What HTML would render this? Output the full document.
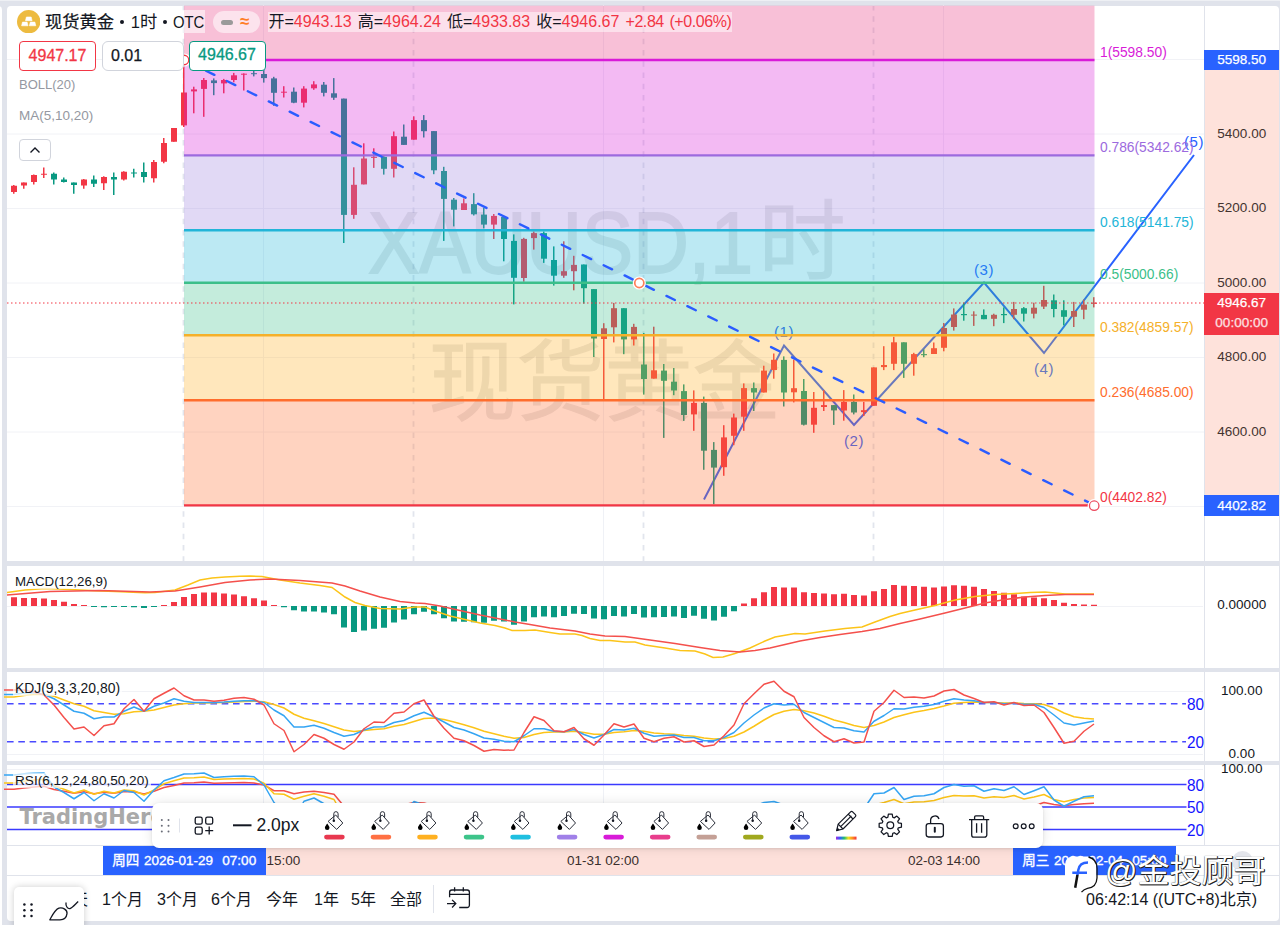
<!DOCTYPE html>
<html lang="zh"><head><meta charset="utf-8"><title>现货黄金 1时</title>
<style>
*{box-sizing:border-box;margin:0;padding:0}
html,body{width:1280px;height:925px;overflow:hidden;background:#e0e3eb;font-family:"Liberation Sans","Noto Sans CJK SC",sans-serif;color:#131722}
.abs{position:absolute}
#leftstrip{left:-8px;top:5.7px;width:10.3px;height:930px;background:#fff;border-radius:4px}
#card{left:7.3px;top:5.7px;width:1271.7px;height:915.5px;background:#fff;border-radius:4px;overflow:hidden}
#chart{left:0;top:0;width:1280px;height:925px}
.sep{left:7px;width:1272px;background:#e0e3eb}
.axisline{left:1203.5px;top:5px;width:1px;height:841px;background:#e0e3eb}
.ax{left:1204.5px;width:74.5px;text-align:center;font-size:13.5px;line-height:14px;color:#131722}
.tag{left:1204.3px;width:74.7px;text-align:center;color:#fff;font-size:13.5px;-webkit-text-stroke:.25px #fff}
.t{white-space:nowrap}
.leg{font-size:13.3px;color:#131722;left:13px;background:rgba(255,255,255,.7);padding:0 2px}
.gray{color:#9598a1}
.red{color:#f23645}
.tb{font-size:16px;top:889.5px;line-height:20px}
.bk{top:811px;width:22px;height:32px}
</style></head><body>
<div class="abs" style="left:0;top:0;width:1280px;height:1px;background:#eef0f4"></div>
<div class="abs" id="leftstrip"></div>
<div class="abs" id="card"></div>
<div class="abs" style="left:1204.3px;top:70px;width:74.7px;height:425px;background:#fee2db"></div>
<svg class="abs" id="chart" width="1280" height="925" viewBox="0 0 1280 925">
<line x1="7" x2="1204" y1="59.5" y2="59.5" stroke="#f1f2f6" stroke-width="1"/>
<line x1="7" x2="1204" y1="134" y2="134" stroke="#f1f2f6" stroke-width="1"/>
<line x1="7" x2="1204" y1="208.5" y2="208.5" stroke="#f1f2f6" stroke-width="1"/>
<line x1="7" x2="1204" y1="283" y2="283" stroke="#f1f2f6" stroke-width="1"/>
<line x1="7" x2="1204" y1="357.5" y2="357.5" stroke="#f1f2f6" stroke-width="1"/>
<line x1="7" x2="1204" y1="432" y2="432" stroke="#f1f2f6" stroke-width="1"/>
<line x1="7" x2="1204" y1="506.5" y2="506.5" stroke="#f1f2f6" stroke-width="1"/>
<line x1="263.5" x2="263.5" y1="5" y2="845" stroke="#eff1f6" stroke-width="1"/>
<line x1="603.5" x2="603.5" y1="5" y2="845" stroke="#eff1f6" stroke-width="1"/>
<line x1="943.5" x2="943.5" y1="5" y2="845" stroke="#eff1f6" stroke-width="1"/>
<line x1="183.5" x2="183.5" y1="5" y2="561" stroke="#e2e5ed" stroke-width="1.8" stroke-dasharray="5.6 5.65"/>
<line x1="413.5" x2="413.5" y1="5" y2="561" stroke="#e2e5ed" stroke-width="1.8" stroke-dasharray="5.6 5.65"/>
<line x1="643.5" x2="643.5" y1="5" y2="561" stroke="#e2e5ed" stroke-width="1.8" stroke-dasharray="5.6 5.65"/>
<line x1="873.5" x2="873.5" y1="5" y2="561" stroke="#e2e5ed" stroke-width="1.8" stroke-dasharray="5.6 5.65"/>
<g opacity="0.13" fill="#50535e" stroke="#50535e">
<text x="368" y="272.7" font-size="87" textLength="385" lengthAdjust="spacingAndGlyphs" stroke-width="1.8" font-family="Liberation Sans, sans-serif">XAUUSD,1</text>
<text x="758.5" y="272.7" font-size="87" stroke-width="1" font-family="Noto Sans CJK SC, sans-serif">时</text>
<text x="604.5" y="413" text-anchor="middle" font-size="88" stroke-width="1" font-family="Noto Sans CJK SC, sans-serif">现货黄金</text>
</g>
<polyline fill="none" stroke="#2962ff" stroke-width="2" stroke-linejoin="miter" points="704,499.5 784,345.5 854,425 984,282.5 1044,353 1194,155"/>
<text x="784" y="336.5" text-anchor="middle" font-size="15" letter-spacing="0.6" fill="#2962ff" font-family="Liberation Sans, sans-serif">(1)</text>
<text x="854" y="446" text-anchor="middle" font-size="15" letter-spacing="0.6" fill="#2962ff" font-family="Liberation Sans, sans-serif">(2)</text>
<text x="984" y="274.5" text-anchor="middle" font-size="15" letter-spacing="0.6" fill="#2962ff" font-family="Liberation Sans, sans-serif">(3)</text>
<text x="1044" y="374" text-anchor="middle" font-size="15" letter-spacing="0.6" fill="#2962ff" font-family="Liberation Sans, sans-serif">(4)</text>
<text x="1194" y="147" text-anchor="middle" font-size="15" letter-spacing="0.6" fill="#2962ff" font-family="Liberation Sans, sans-serif">(5)</text>
<rect x="13" y="185" width="1.5" height="8.75" fill="#f23645"/>
<rect x="11" y="185.75" width="6" height="6.25" fill="#f23645"/>
<rect x="23" y="182.5" width="1.5" height="6.25" fill="#f23645"/>
<rect x="21" y="182.5" width="6" height="3" fill="#f23645"/>
<rect x="33" y="174.5" width="1.5" height="10" fill="#f23645"/>
<rect x="31" y="175" width="6" height="7" fill="#f23645"/>
<rect x="43" y="167.5" width="1.5" height="10.5" fill="#f23645"/>
<rect x="41" y="173.75" width="6" height="1" fill="#f23645"/>
<rect x="53" y="172.5" width="1.5" height="12" fill="#089981"/>
<rect x="51" y="173.75" width="6" height="5.75" fill="#089981"/>
<rect x="63" y="177.5" width="1.5" height="5" fill="#089981"/>
<rect x="61" y="179.5" width="6" height="2.5" fill="#089981"/>
<rect x="73" y="182.5" width="1.5" height="11.25" fill="#089981"/>
<rect x="71" y="182.5" width="6" height="2.5" fill="#089981"/>
<rect x="83" y="179" width="1.5" height="9.75" fill="#f23645"/>
<rect x="81" y="179.5" width="6" height="6" fill="#f23645"/>
<rect x="93" y="175.5" width="1.5" height="11.5" fill="#089981"/>
<rect x="91" y="179.5" width="6" height="4.25" fill="#089981"/>
<rect x="103" y="176.25" width="1.5" height="13.75" fill="#f23645"/>
<rect x="101" y="177" width="6" height="6.25" fill="#f23645"/>
<rect x="113" y="172.5" width="1.5" height="22.5" fill="#089981"/>
<rect x="111" y="177" width="6" height="2.5" fill="#089981"/>
<rect x="123" y="171.25" width="1.5" height="9.25" fill="#f23645"/>
<rect x="121" y="171.75" width="6" height="7.75" fill="#f23645"/>
<rect x="133" y="168.75" width="1.5" height="8.75" fill="#089981"/>
<rect x="131" y="172.5" width="6" height="1" fill="#089981"/>
<rect x="143" y="162.5" width="1.5" height="20" fill="#089981"/>
<rect x="141" y="172" width="6" height="5" fill="#089981"/>
<rect x="153" y="160" width="1.5" height="22.5" fill="#f23645"/>
<rect x="151" y="162" width="6" height="16.25" fill="#f23645"/>
<rect x="163" y="138" width="1.5" height="25.25" fill="#f23645"/>
<rect x="161" y="143" width="6" height="18.75" fill="#f23645"/>
<rect x="173" y="128" width="1.5" height="13.75" fill="#f23645"/>
<rect x="171" y="128" width="6" height="13.75" fill="#f23645"/>
<rect x="183" y="66" width="1.5" height="61" fill="#f23645"/>
<rect x="181" y="92.5" width="6" height="32.9" fill="#f23645"/>
<rect x="193" y="86.7" width="1.5" height="26.6" fill="#f23645"/>
<rect x="191" y="89.4" width="6" height="2" fill="#f23645"/>
<rect x="203" y="78" width="1.5" height="38.8" fill="#f23645"/>
<rect x="201" y="80" width="6" height="8.9" fill="#f23645"/>
<rect x="213" y="78.4" width="1.5" height="16.8" fill="#089981"/>
<rect x="211" y="80.4" width="6" height="2.7" fill="#089981"/>
<rect x="223" y="78.9" width="1.5" height="14.4" fill="#f23645"/>
<rect x="221" y="80" width="6" height="3.4" fill="#f23645"/>
<rect x="233" y="72.9" width="1.5" height="9.4" fill="#f23645"/>
<rect x="231" y="75.3" width="6" height="4.7" fill="#f23645"/>
<rect x="243" y="73.4" width="1.5" height="17.1" fill="#f23645"/>
<rect x="241" y="73.7" width="6" height="1" fill="#f23645"/>
<rect x="253" y="68" width="1.5" height="8.4" fill="#089981"/>
<rect x="251" y="73.2" width="6" height="1" fill="#089981"/>
<rect x="263" y="68" width="1.5" height="14.6" fill="#089981"/>
<rect x="261" y="74" width="6" height="4.1" fill="#089981"/>
<rect x="273" y="76.8" width="1.5" height="29" fill="#089981"/>
<rect x="271" y="78.4" width="6" height="14.4" fill="#089981"/>
<rect x="283" y="86.2" width="1.5" height="11.3" fill="#f23645"/>
<rect x="281" y="91.7" width="6" height="1" fill="#f23645"/>
<rect x="293" y="87.5" width="1.5" height="15.7" fill="#089981"/>
<rect x="291" y="91.7" width="6" height="11" fill="#089981"/>
<rect x="303" y="86.2" width="1.5" height="21.2" fill="#f23645"/>
<rect x="301" y="88.6" width="6" height="14.1" fill="#f23645"/>
<rect x="313" y="81.2" width="1.5" height="8.6" fill="#f23645"/>
<rect x="311" y="84.4" width="6" height="3.9" fill="#f23645"/>
<rect x="323" y="82" width="1.5" height="14.4" fill="#089981"/>
<rect x="321" y="84.7" width="6" height="8.1" fill="#089981"/>
<rect x="333" y="78.1" width="1.5" height="21.8" fill="#089981"/>
<rect x="331" y="93.3" width="6" height="4.4" fill="#089981"/>
<rect x="343" y="98.6" width="1.5" height="144.4" fill="#089981"/>
<rect x="341" y="98.6" width="6" height="116.3" fill="#089981"/>
<rect x="353" y="167.3" width="1.5" height="51.5" fill="#f23645"/>
<rect x="351" y="184.8" width="6" height="30.1" fill="#f23645"/>
<rect x="363" y="143.3" width="1.5" height="41.1" fill="#f23645"/>
<rect x="361" y="158.5" width="6" height="25.9" fill="#f23645"/>
<rect x="373" y="148.3" width="1.5" height="19.6" fill="#f23645"/>
<rect x="371" y="156.9" width="6" height="1" fill="#f23645"/>
<rect x="383" y="155.8" width="1.5" height="18.8" fill="#089981"/>
<rect x="381" y="156.9" width="6" height="11.9" fill="#089981"/>
<rect x="393" y="131.5" width="1.5" height="46" fill="#f23645"/>
<rect x="391" y="136.2" width="6" height="32.6" fill="#f23645"/>
<rect x="403" y="124.5" width="1.5" height="20.4" fill="#089981"/>
<rect x="401" y="136.7" width="6" height="8.2" fill="#089981"/>
<rect x="413" y="116.3" width="1.5" height="23.4" fill="#f23645"/>
<rect x="411" y="120.1" width="6" height="19.6" fill="#f23645"/>
<rect x="423" y="115.1" width="1.5" height="22.4" fill="#089981"/>
<rect x="421" y="120.1" width="6" height="11.1" fill="#089981"/>
<rect x="433" y="131.1" width="1.5" height="43.1" fill="#089981"/>
<rect x="431" y="131.1" width="6" height="39.2" fill="#089981"/>
<rect x="443" y="166.8" width="1.5" height="74.1" fill="#089981"/>
<rect x="441" y="171" width="6" height="27.9" fill="#089981"/>
<rect x="453" y="198" width="1.5" height="28.4" fill="#089981"/>
<rect x="451" y="199.7" width="6" height="10" fill="#089981"/>
<rect x="463" y="198.4" width="1.5" height="11.6" fill="#f23645"/>
<rect x="461" y="203.3" width="6" height="6.7" fill="#f23645"/>
<rect x="473" y="193.2" width="1.5" height="22.3" fill="#089981"/>
<rect x="471" y="204.1" width="6" height="10.2" fill="#089981"/>
<rect x="483" y="207.8" width="1.5" height="20.6" fill="#089981"/>
<rect x="481" y="214.6" width="6" height="10" fill="#089981"/>
<rect x="493" y="214" width="1.5" height="25" fill="#f23645"/>
<rect x="491" y="215.9" width="6" height="8.7" fill="#f23645"/>
<rect x="503" y="215.9" width="1.5" height="45.4" fill="#089981"/>
<rect x="501" y="217" width="6" height="22" fill="#089981"/>
<rect x="513" y="234.4" width="1.5" height="70" fill="#089981"/>
<rect x="511" y="240.9" width="6" height="36.9" fill="#089981"/>
<rect x="523" y="237.8" width="1.5" height="43.9" fill="#f23645"/>
<rect x="521" y="238.9" width="6" height="39.1" fill="#f23645"/>
<rect x="533" y="231.5" width="1.5" height="18.1" fill="#f23645"/>
<rect x="531" y="233.1" width="6" height="5" fill="#f23645"/>
<rect x="543" y="231.5" width="1.5" height="31.4" fill="#089981"/>
<rect x="541" y="233.1" width="6" height="25.6" fill="#089981"/>
<rect x="553" y="246.4" width="1.5" height="39.2" fill="#089981"/>
<rect x="551" y="260" width="6" height="15.7" fill="#089981"/>
<rect x="563" y="241.3" width="1.5" height="36.5" fill="#f23645"/>
<rect x="561" y="271.2" width="6" height="4.5" fill="#f23645"/>
<rect x="573" y="255.8" width="1.5" height="34.5" fill="#f23645"/>
<rect x="571" y="264.9" width="6" height="6.3" fill="#f23645"/>
<rect x="583" y="264.5" width="1.5" height="39.1" fill="#089981"/>
<rect x="581" y="264.5" width="6" height="23.7" fill="#089981"/>
<rect x="593" y="289.1" width="1.5" height="67.9" fill="#089981"/>
<rect x="591" y="289.1" width="6" height="49.4" fill="#089981"/>
<rect x="603" y="323.2" width="1.5" height="76.1" fill="#f23645"/>
<rect x="601" y="328.3" width="6" height="10.7" fill="#f23645"/>
<rect x="613" y="302.9" width="1.5" height="39.5" fill="#f23645"/>
<rect x="611" y="308.2" width="6" height="19.1" fill="#f23645"/>
<rect x="623" y="308.2" width="1.5" height="46" fill="#089981"/>
<rect x="621" y="308.2" width="6" height="31.2" fill="#089981"/>
<rect x="633" y="323.8" width="1.5" height="21.7" fill="#f23645"/>
<rect x="631" y="326.9" width="6" height="12.5" fill="#f23645"/>
<rect x="643" y="333" width="1.5" height="61.6" fill="#089981"/>
<rect x="641" y="364.5" width="6" height="14.5" fill="#089981"/>
<rect x="653" y="326.7" width="1.5" height="51.9" fill="#f23645"/>
<rect x="651" y="370.3" width="6" height="8.3" fill="#f23645"/>
<rect x="663" y="364" width="1.5" height="73.9" fill="#089981"/>
<rect x="661" y="370.6" width="6" height="10.2" fill="#089981"/>
<rect x="673" y="368" width="1.5" height="27.2" fill="#089981"/>
<rect x="671" y="381.7" width="6" height="8.8" fill="#089981"/>
<rect x="683" y="384.4" width="1.5" height="36.5" fill="#089981"/>
<rect x="681" y="391.1" width="6" height="23.9" fill="#089981"/>
<rect x="693" y="390.4" width="1.5" height="40.4" fill="#f23645"/>
<rect x="691" y="402.9" width="6" height="11.5" fill="#f23645"/>
<rect x="703" y="396.6" width="1.5" height="73.2" fill="#089981"/>
<rect x="701" y="402.9" width="6" height="47.8" fill="#089981"/>
<rect x="713" y="442.1" width="1.5" height="62.2" fill="#089981"/>
<rect x="711" y="449.9" width="6" height="17.7" fill="#089981"/>
<rect x="723" y="425.2" width="1.5" height="50.6" fill="#f23645"/>
<rect x="721" y="437.4" width="6" height="29.8" fill="#f23645"/>
<rect x="733" y="413.6" width="1.5" height="31.6" fill="#f23645"/>
<rect x="731" y="417.5" width="6" height="18.3" fill="#f23645"/>
<rect x="743" y="383.4" width="1.5" height="47.4" fill="#f23645"/>
<rect x="741" y="388.1" width="6" height="28.6" fill="#f23645"/>
<rect x="753" y="382.5" width="1.5" height="28.5" fill="#089981"/>
<rect x="751" y="388.1" width="6" height="4.4" fill="#089981"/>
<rect x="763" y="365.7" width="1.5" height="26.8" fill="#f23645"/>
<rect x="761" y="370.6" width="6" height="21.9" fill="#f23645"/>
<rect x="773" y="353.5" width="1.5" height="25.2" fill="#f23645"/>
<rect x="771" y="359.8" width="6" height="10.2" fill="#f23645"/>
<rect x="783" y="356.4" width="1.5" height="50.1" fill="#089981"/>
<rect x="781" y="359.9" width="6" height="32.6" fill="#089981"/>
<rect x="793" y="359.6" width="1.5" height="42.8" fill="#f23645"/>
<rect x="791" y="388.2" width="6" height="4.1" fill="#f23645"/>
<rect x="803" y="379" width="1.5" height="46.5" fill="#089981"/>
<rect x="801" y="391" width="6" height="33.7" fill="#089981"/>
<rect x="813" y="392" width="1.5" height="40.8" fill="#f23645"/>
<rect x="811" y="407.8" width="6" height="16.9" fill="#f23645"/>
<rect x="823" y="390.2" width="1.5" height="20.8" fill="#f23645"/>
<rect x="821" y="405.1" width="6" height="1.9" fill="#f23645"/>
<rect x="833" y="405.1" width="1.5" height="19.8" fill="#089981"/>
<rect x="831" y="405.1" width="6" height="5.3" fill="#089981"/>
<rect x="843" y="390.1" width="1.5" height="30.6" fill="#f23645"/>
<rect x="841" y="401.9" width="6" height="8.6" fill="#f23645"/>
<rect x="853" y="394.5" width="1.5" height="19.9" fill="#089981"/>
<rect x="851" y="401.9" width="6" height="10.6" fill="#089981"/>
<rect x="863" y="401.9" width="1.5" height="14.1" fill="#f23645"/>
<rect x="861" y="410.2" width="6" height="1.9" fill="#f23645"/>
<rect x="873" y="367.4" width="1.5" height="38.4" fill="#f23645"/>
<rect x="871" y="367.4" width="6" height="38.4" fill="#f23645"/>
<rect x="883" y="346.2" width="1.5" height="23.9" fill="#f23645"/>
<rect x="881" y="365" width="6" height="2.1" fill="#f23645"/>
<rect x="893" y="336.8" width="1.5" height="33.3" fill="#f23645"/>
<rect x="891" y="342.3" width="6" height="21.5" fill="#f23645"/>
<rect x="903" y="342.3" width="1.5" height="35.6" fill="#089981"/>
<rect x="901" y="342.3" width="6" height="21.5" fill="#089981"/>
<rect x="913" y="352.8" width="1.5" height="22.9" fill="#f23645"/>
<rect x="911" y="354.1" width="6" height="9.7" fill="#f23645"/>
<rect x="923" y="349.4" width="1.5" height="7.8" fill="#089981"/>
<rect x="921" y="354.1" width="6" height="1.1" fill="#089981"/>
<rect x="933" y="342.5" width="1.5" height="11.5" fill="#f23645"/>
<rect x="931" y="348.2" width="6" height="5.8" fill="#f23645"/>
<rect x="943" y="323" width="1.5" height="28.3" fill="#f23645"/>
<rect x="941" y="328" width="6" height="19.8" fill="#f23645"/>
<rect x="953" y="308.4" width="1.5" height="22.2" fill="#f23645"/>
<rect x="951" y="314.5" width="6" height="12.5" fill="#f23645"/>
<rect x="963" y="302.7" width="1.5" height="18" fill="#089981"/>
<rect x="961" y="314" width="6" height="1.2" fill="#089981"/>
<rect x="973" y="311.3" width="1.5" height="14.6" fill="#f23645"/>
<rect x="971" y="314.6" width="6" height="1" fill="#f23645"/>
<rect x="983" y="309.4" width="1.5" height="9.8" fill="#089981"/>
<rect x="981" y="314.9" width="6" height="4.3" fill="#089981"/>
<rect x="993" y="313.7" width="1.5" height="12.5" fill="#f23645"/>
<rect x="991" y="314.8" width="6" height="4" fill="#f23645"/>
<rect x="1003" y="307.4" width="1.5" height="15.7" fill="#089981"/>
<rect x="1001" y="314" width="6" height="1.2" fill="#089981"/>
<rect x="1013" y="301.9" width="1.5" height="17.3" fill="#f23645"/>
<rect x="1011" y="309" width="6" height="5.8" fill="#f23645"/>
<rect x="1023" y="307.1" width="1.5" height="14.4" fill="#089981"/>
<rect x="1021" y="308.2" width="6" height="5.5" fill="#089981"/>
<rect x="1033" y="302.7" width="1.5" height="15.7" fill="#f23645"/>
<rect x="1031" y="307.7" width="6" height="6" fill="#f23645"/>
<rect x="1043" y="285.8" width="1.5" height="23.2" fill="#f23645"/>
<rect x="1041" y="300" width="6" height="6.6" fill="#f23645"/>
<rect x="1053" y="294.5" width="1.5" height="22.8" fill="#089981"/>
<rect x="1051" y="300.3" width="6" height="8.7" fill="#089981"/>
<rect x="1063" y="300.3" width="1.5" height="25.1" fill="#089981"/>
<rect x="1061" y="310.2" width="6" height="6.6" fill="#089981"/>
<rect x="1073" y="301.9" width="1.5" height="25.1" fill="#f23645"/>
<rect x="1071" y="311" width="6" height="5.8" fill="#f23645"/>
<rect x="1083" y="299.6" width="1.5" height="19.6" fill="#f23645"/>
<rect x="1081" y="304.6" width="6" height="5.1" fill="#f23645"/>
<rect x="1093" y="297.2" width="1.5" height="10.2" fill="#f23645"/>
<rect x="1091" y="302.7" width="6" height="1.1" fill="#f23645"/>
<rect x="184" y="5.7" width="910.5" height="54.3" fill="#e8307a" fill-opacity="0.3"/>
<rect x="184" y="60" width="910.5" height="95.4" fill="#d81bd8" fill-opacity="0.3"/>
<rect x="184" y="155.4" width="910.5" height="74.8" fill="#9b80de" fill-opacity="0.3"/>
<rect x="184" y="230.2" width="910.5" height="52.6" fill="#22b5d8" fill-opacity="0.3"/>
<rect x="184" y="282.8" width="910.5" height="52.5" fill="#3cbf8a" fill-opacity="0.3"/>
<rect x="184" y="335.3" width="910.5" height="65" fill="#ffb020" fill-opacity="0.3"/>
<rect x="184" y="400.3" width="910.5" height="105.1" fill="#ff6d2d" fill-opacity="0.3"/>
<line x1="184" x2="1094.5" y1="60" y2="60" stroke="#d81bd8" stroke-width="2.4"/>
<text x="1100" y="56.5" font-size="13.8" fill="#d81bd8" font-family="Liberation Sans, sans-serif">1(5598.50)</text>
<line x1="184" x2="1094.5" y1="155.4" y2="155.4" stroke="#9c6ade" stroke-width="2.4"/>
<text x="1100" y="151.9" font-size="13.8" fill="#9c6ade" font-family="Liberation Sans, sans-serif">0.786(5342.62)</text>
<line x1="184" x2="1094.5" y1="230.2" y2="230.2" stroke="#22b5d8" stroke-width="2.4"/>
<text x="1100" y="226.7" font-size="13.8" fill="#22b5d8" font-family="Liberation Sans, sans-serif">0.618(5141.75)</text>
<line x1="184" x2="1094.5" y1="282.8" y2="282.8" stroke="#3cbf8a" stroke-width="2.4"/>
<text x="1100" y="279.3" font-size="13.8" fill="#3cbf8a" font-family="Liberation Sans, sans-serif">0.5(5000.66)</text>
<line x1="184" x2="1094.5" y1="335.3" y2="335.3" stroke="#f5b02a" stroke-width="2.4"/>
<text x="1100" y="331.8" font-size="13.8" fill="#f5b02a" font-family="Liberation Sans, sans-serif">0.382(4859.57)</text>
<line x1="184" x2="1094.5" y1="400.3" y2="400.3" stroke="#ff6d2d" stroke-width="2.4"/>
<text x="1100" y="396.8" font-size="13.8" fill="#ff6d2d" font-family="Liberation Sans, sans-serif">0.236(4685.00)</text>
<line x1="184" x2="1094.5" y1="505.4" y2="505.4" stroke="#f23645" stroke-width="2.4"/>
<text x="1100" y="501.9" font-size="13.8" fill="#f23645" font-family="Liberation Sans, sans-serif">0(4402.82)</text>
<line x1="185" y1="60.5" x2="1094" y2="505" stroke="#2b5cff" stroke-width="2.4" stroke-linecap="round" stroke-dasharray="9.4 13.9"/>
<circle cx="184" cy="60" r="6.6" fill="#fff"/>
<circle cx="184" cy="60" r="4.75" fill="#fff" stroke="#f23645" stroke-width="1.3"/>
<circle cx="639.3" cy="283" r="6.6" fill="#fff"/>
<circle cx="639.3" cy="283" r="4.550000000000001" fill="#fff" stroke="#ff7f5a" stroke-width="1.7"/>
<circle cx="1094.2" cy="505.7" r="6.6" fill="#fff"/>
<circle cx="1094.2" cy="505.7" r="4.75" fill="#fff" stroke="#ec4a5e" stroke-width="1.3"/>
<line x1="7" x2="1204" y1="303" y2="303" stroke="#f23645" stroke-width="1" stroke-dasharray="1.5 2.5"/>
<line x1="7" x2="1203" y1="606.5" y2="606.5" stroke="#f1f2f6" stroke-width="1"/>
<rect x="11" y="597.25" width="6" height="8.75" fill="#f23645"/>
<rect x="21" y="598" width="6" height="8" fill="#f23645"/>
<rect x="31" y="598" width="6" height="8" fill="#f23645"/>
<rect x="41" y="598.5" width="6" height="7.5" fill="#f23645"/>
<rect x="51" y="600" width="6" height="6" fill="#f23645"/>
<rect x="61" y="601.75" width="6" height="4.25" fill="#f23645"/>
<rect x="71" y="604" width="6" height="2" fill="#f23645"/>
<rect x="81" y="605" width="6" height="1" fill="#f23645"/>
<rect x="91" y="606" width="6" height="1" fill="#089981"/>
<rect x="101" y="606" width="6" height="1.25" fill="#089981"/>
<rect x="111" y="606" width="6" height="1" fill="#089981"/>
<rect x="121" y="606" width="6" height="1" fill="#089981"/>
<rect x="131" y="606" width="6" height="1.25" fill="#089981"/>
<rect x="141" y="606" width="6" height="2" fill="#089981"/>
<rect x="151" y="606" width="6" height="1" fill="#089981"/>
<rect x="161" y="605" width="6" height="1" fill="#f23645"/>
<rect x="171" y="602" width="6" height="4" fill="#f23645"/>
<rect x="181" y="597" width="6" height="9" fill="#f23645"/>
<rect x="191" y="594" width="6" height="12" fill="#f23645"/>
<rect x="201" y="592.5" width="6" height="13.5" fill="#f23645"/>
<rect x="211" y="592.5" width="6" height="13.5" fill="#f23645"/>
<rect x="221" y="593.5" width="6" height="12.5" fill="#f23645"/>
<rect x="231" y="594.5" width="6" height="11.5" fill="#f23645"/>
<rect x="241" y="596.25" width="6" height="9.75" fill="#f23645"/>
<rect x="251" y="598.25" width="6" height="7.75" fill="#f23645"/>
<rect x="261" y="600.5" width="6" height="5.5" fill="#f23645"/>
<rect x="271" y="605" width="6" height="1" fill="#f23645"/>
<rect x="281" y="606" width="6" height="1.25" fill="#089981"/>
<rect x="291" y="606" width="6" height="4.25" fill="#089981"/>
<rect x="301" y="606" width="6" height="5.5" fill="#089981"/>
<rect x="311" y="606" width="6" height="5.5" fill="#089981"/>
<rect x="321" y="606" width="6" height="6.5" fill="#089981"/>
<rect x="331" y="606" width="6" height="8.25" fill="#089981"/>
<rect x="341" y="606" width="6" height="21.5" fill="#089981"/>
<rect x="351" y="606" width="6" height="26" fill="#089981"/>
<rect x="361" y="606" width="6" height="24.5" fill="#089981"/>
<rect x="371" y="606" width="6" height="22.75" fill="#089981"/>
<rect x="381" y="606" width="6" height="21.75" fill="#089981"/>
<rect x="391" y="606" width="6" height="16.5" fill="#089981"/>
<rect x="401" y="606" width="6" height="13.5" fill="#089981"/>
<rect x="411" y="606" width="6" height="8.25" fill="#089981"/>
<rect x="421" y="606" width="6" height="5.75" fill="#089981"/>
<rect x="431" y="606" width="6" height="8.25" fill="#089981"/>
<rect x="441" y="606" width="6" height="12.25" fill="#089981"/>
<rect x="451" y="606" width="6" height="15.5" fill="#089981"/>
<rect x="461" y="606" width="6" height="15.75" fill="#089981"/>
<rect x="471" y="606" width="6" height="16.25" fill="#089981"/>
<rect x="481" y="606" width="6" height="16.75" fill="#089981"/>
<rect x="491" y="606" width="6" height="14.75" fill="#089981"/>
<rect x="501" y="606" width="6" height="15.5" fill="#089981"/>
<rect x="511" y="606" width="6" height="18.75" fill="#089981"/>
<rect x="521" y="606" width="6" height="15.5" fill="#089981"/>
<rect x="531" y="606" width="6" height="11.25" fill="#089981"/>
<rect x="541" y="606" width="6" height="10.5" fill="#089981"/>
<rect x="551" y="606" width="6" height="11.25" fill="#089981"/>
<rect x="561" y="606" width="6" height="10" fill="#089981"/>
<rect x="571" y="606" width="6" height="7.75" fill="#089981"/>
<rect x="581" y="606" width="6" height="8" fill="#089981"/>
<rect x="591" y="606" width="6" height="12.5" fill="#089981"/>
<rect x="601" y="606" width="6" height="13.25" fill="#089981"/>
<rect x="611" y="606" width="6" height="10" fill="#089981"/>
<rect x="621" y="606" width="6" height="10.5" fill="#089981"/>
<rect x="631" y="606" width="6" height="8" fill="#089981"/>
<rect x="641" y="606" width="6" height="11.5" fill="#089981"/>
<rect x="651" y="606" width="6" height="11.25" fill="#089981"/>
<rect x="661" y="606" width="6" height="11" fill="#089981"/>
<rect x="671" y="606" width="6" height="10.5" fill="#089981"/>
<rect x="681" y="606" width="6" height="12" fill="#089981"/>
<rect x="691" y="606" width="6" height="9.75" fill="#089981"/>
<rect x="701" y="606" width="6" height="12.75" fill="#089981"/>
<rect x="711" y="606" width="6" height="14.5" fill="#089981"/>
<rect x="721" y="606" width="6" height="10.75" fill="#089981"/>
<rect x="731" y="606" width="6" height="5.25" fill="#089981"/>
<rect x="741" y="603.5" width="6" height="2.5" fill="#f23645"/>
<rect x="751" y="598.25" width="6" height="7.75" fill="#f23645"/>
<rect x="761" y="592.25" width="6" height="13.75" fill="#f23645"/>
<rect x="771" y="587" width="6" height="19" fill="#f23645"/>
<rect x="781" y="587.5" width="6" height="18.5" fill="#f23645"/>
<rect x="791" y="587.5" width="6" height="18.5" fill="#f23645"/>
<rect x="801" y="592.25" width="6" height="13.75" fill="#f23645"/>
<rect x="811" y="593" width="6" height="13" fill="#f23645"/>
<rect x="821" y="593.5" width="6" height="12.5" fill="#f23645"/>
<rect x="831" y="594.25" width="6" height="11.75" fill="#f23645"/>
<rect x="841" y="593.75" width="6" height="12.25" fill="#f23645"/>
<rect x="851" y="595" width="6" height="11" fill="#f23645"/>
<rect x="861" y="595.5" width="6" height="10.5" fill="#f23645"/>
<rect x="871" y="591.25" width="6" height="14.75" fill="#f23645"/>
<rect x="881" y="589" width="6" height="17" fill="#f23645"/>
<rect x="891" y="585" width="6" height="21" fill="#f23645"/>
<rect x="901" y="585.75" width="6" height="20.25" fill="#f23645"/>
<rect x="911" y="586" width="6" height="20" fill="#f23645"/>
<rect x="921" y="586.75" width="6" height="19.25" fill="#f23645"/>
<rect x="931" y="587.5" width="6" height="18.5" fill="#f23645"/>
<rect x="941" y="586.5" width="6" height="19.5" fill="#f23645"/>
<rect x="951" y="585.25" width="6" height="20.75" fill="#f23645"/>
<rect x="961" y="585.75" width="6" height="20.25" fill="#f23645"/>
<rect x="971" y="586.75" width="6" height="19.25" fill="#f23645"/>
<rect x="981" y="589" width="6" height="17" fill="#f23645"/>
<rect x="991" y="591" width="6" height="15" fill="#f23645"/>
<rect x="1001" y="592.75" width="6" height="13.25" fill="#f23645"/>
<rect x="1011" y="594.25" width="6" height="11.75" fill="#f23645"/>
<rect x="1021" y="596.5" width="6" height="9.5" fill="#f23645"/>
<rect x="1031" y="597.5" width="6" height="8.5" fill="#f23645"/>
<rect x="1041" y="598.25" width="6" height="7.75" fill="#f23645"/>
<rect x="1051" y="600" width="6" height="6" fill="#f23645"/>
<rect x="1061" y="602.75" width="6" height="3.25" fill="#f23645"/>
<rect x="1071" y="604" width="6" height="2" fill="#f23645"/>
<rect x="1081" y="604.5" width="6" height="1.5" fill="#f23645"/>
<rect x="1091" y="604.75" width="6" height="1.25" fill="#f23645"/>
<polyline fill="none" stroke="#fcc419" stroke-width="1.5" points="7,592.5 25,590 45,588.5 70,589.5 95,590.8 115,591.5 145,592.75 155,592.5 175,590 188,585 200,580 212,578 225,577 240,576.2 250,576 262,576.5 280,580 300,583 320,585.5 332,587.5 345,597 355,602.5 365,605.5 380,608.5 400,609 415,607 425,607 435,611 450,616 465,619.5 480,623 495,625.5 505,628 512,630.5 525,630.5 535,630 550,632.5 560,634 575,634 582,635.5 590,638.5 600,640.5 610,640.5 625,642 635,642 645,645 665,648 680,650.5 695,651 705,654 713,657.5 723,657 735,653.5 750,648 765,641 775,637 795,633.5 805,634 825,631 845,628.5 862,627 875,622 890,616.5 900,613.5 915,610 935,605.5 955,600 975,596.5 995,594.5 1015,593.5 1030,592.5 1045,592 1055,593 1065,594 1094,594"/>
<polyline fill="none" stroke="#f4504c" stroke-width="1.5" points="7,595 50,591.5 100,590.5 150,592 175,591 200,587 225,582.5 250,580 270,579 300,580.5 332,583 345,586 360,591 380,597 400,601.5 415,603 425,603.5 440,606 460,610.5 480,615 500,619 515,622 530,624.5 550,628 575,631 590,634 605,636 625,636.5 650,640 675,643.5 700,647.5 720,650.5 740,652 755,650.5 770,648 785,644.5 800,641 820,637.5 840,634.5 862,631.5 880,628.5 900,623.5 920,619 945,613 965,608 985,603 1005,599.5 1025,597 1045,595.5 1065,594.5 1094,594.5"/>
<line x1="7" x2="1203" y1="691.5" y2="691.5" stroke="#f1f2f6" stroke-width="1"/>
<line x1="7" x2="1203" y1="754.5" y2="754.5" stroke="#f1f2f6" stroke-width="1"/>
<line x1="7" x2="1186" y1="703.75" y2="703.75" stroke="#4a4aff" stroke-width="1.7" stroke-dasharray="6.6 4.7"/>
<line x1="7" x2="1186" y1="741.75" y2="741.75" stroke="#4a4aff" stroke-width="1.7" stroke-dasharray="6.6 4.7"/>
<polyline fill="none" stroke="#fcc419" stroke-width="1.5" stroke-linejoin="round" points="4,697 14,697 24,695.5 34,694.5 44,694.5 54,696.25 64,700 74,703.75 84,706.25 94,710.75 104,712.5 114,714.25 124,713.75 134,711.75 144,711.25 154,710 164,707.5 174,705 184,703.75 194,703 204,703 214,702.75 224,702.5 234,702 244,701.5 254,701.25 264,701.75 274,704.5 284,708 294,714.25 304,718.25 314,720.75 324,723.5 334,726.75 344,730 354,731.5 364,730.5 374,729.5 384,728.75 394,726.25 404,724.5 414,721.5 424,718.5 434,718 444,719.5 454,722 464,724.75 474,727.75 484,731.25 494,733.75 504,736.25 514,738.25 524,737.5 534,734.5 544,732.5 554,732 564,732 574,731.25 584,732.5 594,734.25 604,734.25 614,732.5 624,731.75 634,730.5 644,731.25 654,733 664,733.75 674,734.25 684,735.5 694,736.25 704,738 714,739 724,738.5 734,736.25 744,732 754,726.25 764,720 774,714.5 784,711.25 794,709.5 804,710.75 814,713 824,716.25 834,720 844,722.5 854,725.5 864,727.5 874,725.5 884,722 894,717.5 904,714.75 914,712.25 924,710.5 934,708.5 944,706 954,703.25 964,702.5 974,702 984,702.5 994,702.5 1004,703 1014,703 1024,703.5 1034,703.75 1044,704.5 1054,708 1064,713 1074,716.75 1084,718.25 1094,719"/>
<polyline fill="none" stroke="#35a5f3" stroke-width="1.5" stroke-linejoin="round" points="4,694.5 14,694.5 24,693 34,692.5 44,694.5 54,698.75 64,705 74,711.25 84,713.25 94,718.75 104,717 114,717 124,711.25 134,707 144,711.25 154,706.25 164,703 174,698.75 184,701.25 194,702.5 204,702.5 214,702.5 224,702 234,701.25 244,700.75 254,700.75 264,702.5 274,710 284,715.75 294,727 304,727 314,725.25 324,728.25 334,732.5 344,736.25 354,734.5 364,730 374,727 384,726.75 394,722.5 404,720.5 414,715.75 424,712.25 434,716.75 444,722 454,727.5 464,730 474,733.75 484,738 494,739.25 504,741.25 514,741.75 524,735.75 534,728.75 544,728.75 554,731.25 564,731.75 574,729.5 584,734.5 594,738 604,734.5 614,729.5 624,730 634,728.25 644,733.25 654,736.25 664,735.5 674,735 684,737.5 694,737.5 704,740.75 714,740.75 724,737.5 734,732.5 744,723 754,715 764,708 774,703.75 784,705 794,704.25 804,712.5 814,717.5 824,722.5 834,727.5 844,728 854,730.75 864,732 874,721.25 884,715.5 894,708.75 904,709 914,707.25 924,706.25 934,704.5 944,701.25 954,698.75 964,700 974,700.75 984,702.5 994,702.5 1004,703.75 1014,703.25 1024,704.25 1034,704.25 1044,707.5 1054,715 1064,723 1074,725 1084,723 1094,721"/>
<polyline fill="none" stroke="#f4504c" stroke-width="1.5" stroke-linejoin="round" points="4,690 14,690 24,690 34,692 44,695 54,705 64,717.5 74,729 84,727 94,735.5 104,725.75 114,723.75 124,708.75 134,699.5 144,711.25 154,698.75 164,693.25 174,688 184,695.75 194,700 204,700 214,701.25 224,700.25 234,698.25 244,697.5 254,699.25 264,705 274,723.75 284,730.5 294,751.75 304,744.5 314,734.5 324,738.25 334,744.5 344,749.25 354,742 364,728.75 374,722 384,722.5 394,713.25 404,712 414,703.75 424,700 434,716.25 444,728.25 454,738.25 464,740.75 474,745.5 484,751.25 494,749.5 504,750.25 514,750 524,732.5 534,716.75 544,720.5 554,730.75 564,731.75 574,727.5 584,738.75 594,745.25 604,735 614,723.75 624,727 634,724 644,738.25 654,741.75 664,738.25 674,736.75 684,742 694,740.75 704,746.5 714,745 724,735.75 734,725 744,703.75 754,693.75 764,684.25 774,681.25 784,691.25 794,696.75 804,717.5 814,727.5 824,735.75 834,741.75 844,738.75 854,743 864,742 874,711.25 884,702.5 894,690.25 904,697.5 914,697 924,698 934,696 944,691 954,689.5 964,695 974,698.5 984,702.5 994,701.75 1004,705 1014,702.5 1024,705.5 1034,705 1044,712.5 1054,727.5 1064,743.25 1074,741.25 1084,731.25 1094,724"/>
<line x1="7" x2="1203" y1="769.5" y2="769.5" stroke="#f1f2f6" stroke-width="1"/>
<line x1="7" x2="1186.5" y1="784.5" y2="784.5" stroke="#3a3aff" stroke-width="1.5"/>
<line x1="7" x2="1186.5" y1="807" y2="807" stroke="#3a3aff" stroke-width="1.5"/>
<line x1="7" x2="1186.5" y1="829.5" y2="829.5" stroke="#3a3aff" stroke-width="1.5"/>
<polyline fill="none" stroke="#f4504c" stroke-width="1.5" stroke-linejoin="round" points="4,789.25 14,789.25 24,788 34,787 44,786.25 54,789.5 64,791.25 74,793.25 84,791.75 94,793.75 104,792.25 114,793.25 124,791.5 134,791.75 144,794 154,791.25 164,787.5 174,785.5 184,783 194,782.75 204,782 214,783.25 224,783 234,782.75 244,782.5 254,783 264,785 274,790.75 284,790.75 294,793.75 304,792 314,791.25 324,792.5 334,794.25 344,806.25 354,808.75 364,808.5 374,808 384,807.75 394,805.75 404,804.75 414,802.5 424,803 434,805.75 444,808.25 454,810.5 464,810.75 474,811.75 484,812.75 494,812.75 504,813.5 514,814.75 524,813.75 534,811.75 544,812 554,813.25 564,813.25 574,812.75 584,814.25 594,815.75 604,815.25 614,813.75 624,814 634,813.5 644,815.25 654,816 664,815.75 674,815.75 684,816.5 694,816.5 704,817.5 714,818 724,817 734,815.25 744,813.25 754,811 764,809.5 774,808.5 784,809 794,809.25 804,811.5 814,812.75 824,813.75 834,814.75 844,814.5 854,815.25 864,812.25 874,807.5 884,806 894,805.75 904,806.5 914,805.75 924,805.75 934,805.75 944,805.75 954,805.75 964,805.75 974,805.75 984,805.75 994,805.75 1004,805.75 1014,805.75 1024,805.75 1034,805.75 1044,802.5 1054,804.5 1064,805.75 1074,804.5 1084,803.75 1094,803.25"/>
<polyline fill="none" stroke="#fcc419" stroke-width="1.5" stroke-linejoin="round" points="4,783 14,783 24,781.25 34,780 44,779.25 54,785.5 64,789.25 74,793 84,790 94,794.25 104,791.25 114,793 124,790 134,790.75 144,795 154,790 164,783.75 174,780.75 184,778 194,777.75 204,777 214,779.5 224,779 234,778.75 244,778.5 254,779 264,783.25 274,793.75 284,794.25 294,799.25 304,796.25 314,793.75 324,796.25 334,799.5 344,817.5 354,820.5 364,819.5 374,818 384,817.5 394,813 404,811 414,806.25 424,807 434,812 444,816.5 454,820 464,820 474,821.5 484,823 494,822.5 504,823.5 514,825.5 524,823 534,819 544,819.5 554,821.5 564,821.5 574,820.5 584,823 594,825.5 604,824 614,821 624,821.5 634,820.5 644,823.5 654,824.5 664,824 674,823.75 684,824.75 694,824.5 704,826 714,826.75 724,824.5 734,821 744,817 754,813 764,810.5 774,809 784,810 794,810.5 804,814.5 814,816.5 824,818 834,819.5 844,818.75 854,819.75 864,813.75 874,805 884,802.5 894,799.5 904,803.75 914,802 924,801.75 934,800.5 944,797.5 954,795.5 964,796 974,795.75 984,798 994,796.75 1004,797.5 1014,795.5 1024,799 1034,797 1044,794.5 1054,799.5 1064,801.75 1074,799.5 1084,798 1094,797.5"/>
<polyline fill="none" stroke="#35a5f3" stroke-width="1.5" stroke-linejoin="round" points="4,775 14,775 24,773.75 34,773.25 44,773 54,787 64,792.5 74,798.75 84,792.5 94,800.75 104,793.75 114,798 124,790.5 134,792.5 144,801.25 154,790 164,780.75 174,777.5 184,774 194,773.75 204,773 214,777.5 224,776.75 234,776.25 244,776 254,776.75 264,785 274,802.5 284,812.5 294,818.75 304,801.25 314,798 324,803.75 334,808.75 344,827.5 354,830 364,827.5 374,825 384,823.75 394,815 404,811.25 414,801.5 424,805 434,815 444,822.5 454,827.5 464,826.25 474,828.75 484,830 494,828.75 504,830 514,832.5 524,827.5 534,820 544,821.25 554,825 564,825 574,822.5 584,827.5 594,831.25 604,827.5 614,822.5 624,823.75 634,822 644,827.5 654,828.75 664,827.5 674,827 684,828.75 694,828 704,830 714,831.25 724,826.25 734,820 744,812.5 754,806.25 764,802.5 774,801.5 784,805 794,806.25 804,815 814,818.75 824,821.25 834,823.75 844,822 854,823.75 864,808.75 874,793.75 884,793 894,787.5 904,799.5 914,796.25 924,795.75 934,793.75 944,787.5 954,784.5 964,786.25 974,785.75 984,791.25 994,788.75 1004,790.5 1014,786.75 1024,794.5 1034,790.75 1044,786.75 1054,800 1064,806.25 1074,801.25 1084,796.75 1094,795.75"/>
</svg>
<div class="abs sep" style="top:561px;height:4.5px"></div>
<div class="abs sep" style="top:667.5px;height:4.5px"></div>
<div class="abs sep" style="top:760.5px;height:4.5px"></div>
<div class="abs axisline"></div>
<div class="abs" style="left:7px;top:845px;width:1272px;height:1px;background:#e0e3eb"></div>
<div class="abs" style="left:7px;top:875px;width:1272px;height:1px;background:#e0e3eb"></div>

<!-- price axis -->
<div class="abs ax t" style="top:127px;color:#43332f">5400.00</div>
<div class="abs ax t" style="top:201px;color:#43332f">5200.00</div>
<div class="abs ax t" style="top:276px;color:#43332f">5000.00</div>
<div class="abs ax t" style="top:350px;color:#43332f">4800.00</div>
<div class="abs ax t" style="top:425px;color:#43332f">4600.00</div>
<div class="abs tag t" style="top:50px;height:20px;line-height:20px;background:#2962ff">5598.50</div>
<div class="abs tag t" style="top:495px;height:21px;line-height:21px;background:#2962ff">4402.82</div>
<div class="abs tag t" style="top:293px;height:41.5px;background:#f23645;line-height:20.3px;padding-top:0">4946.67<br><span style="opacity:.85">00:00:00</span></div>
<div class="abs ax t" style="top:598px">0.00000</div>
<div class="abs ax t" style="top:684px">100.00</div>
<div class="abs ax t" style="top:747px">0.00</div>
<div class="abs ax t" style="top:762px">100.00</div>
<div class="abs t" style="left:1187px;top:694px;font-size:16.5px;color:#1414ff;line-height:20px;transform:scaleX(.93);transform-origin:0 0">80</div>
<div class="abs t" style="left:1187px;top:732px;font-size:16.5px;color:#1414ff;line-height:20px;transform:scaleX(.93);transform-origin:0 0">20</div>
<div class="abs t" style="left:1187px;top:775px;font-size:16.5px;color:#1414ff;line-height:20px;transform:scaleX(.93);transform-origin:0 0">80</div>
<div class="abs t" style="left:1187px;top:797px;font-size:16.5px;color:#1414ff;line-height:20px;transform:scaleX(.93);transform-origin:0 0">50</div>
<div class="abs t" style="left:1187px;top:820px;font-size:16.5px;color:#1414ff;line-height:20px;transform:scaleX(.93);transform-origin:0 0">20</div>

<!-- legends -->
<div class="abs t leg" style="top:573.5px">MACD(12,26,9)</div>
<div class="abs t leg" style="top:680px;font-size:13.9px">KDJ(9,3,3,20,80)</div>
<div class="abs t leg" style="top:772.5px;font-size:13.6px">RSI(6,12,24,80,50,20)</div>
<div class="abs t" style="left:19.5px;top:804.7px;font-size:21px;line-height:24px;font-weight:bold;color:#a9a9a9;font-family:'DejaVu Sans',sans-serif">TradingHero</div>

<!-- header -->
<div class="abs" style="left:7px;top:10px;width:198px;height:23px;background:rgba(255,255,255,.55)"></div>
<svg class="abs" style="left:16.6px;top:10.1px" width="23.4" height="23.4" viewBox="16.6 10.1 23.4 23.4"><circle cx="28.3" cy="21.8" r="11.7" fill="#edbb40"/><path d="M26 17.1H30.8L31.7 20.8H25.1ZM22.1 22.2H26.7L27.6 25.9H21.2ZM29.9 22.2H34.5L35.4 25.9H29Z" fill="#fff" stroke="#fff" stroke-width=".6" stroke-linejoin="round"/></svg>
<div class="abs t" style="left:45px;top:10.5px;font-size:17.3px;line-height:23px;color:#131722;-webkit-text-stroke:.2px #131722">现货黄金</div>
<div class="abs" style="left:120.4px;top:20.3px;width:3.8px;height:3.8px;border-radius:2px;background:#131722"></div>
<div class="abs t" style="left:130.8px;top:10.5px;font-size:17.3px;line-height:23px;color:#131722"><span style="font-size:16.5px">1</span>时</div>
<div class="abs" style="left:163.1px;top:20.3px;width:3.8px;height:3.8px;border-radius:2px;background:#131722"></div>
<div class="abs t" style="left:172.6px;top:10.5px;font-size:16.8px;line-height:23px;color:#131722;transform:scaleX(.885);transform-origin:0 0">OTC</div>
<div class="abs" style="left:213px;top:11px;width:46.5px;height:21.5px;border-radius:11px;background:rgba(255,255,255,.55)"></div>
<div class="abs" style="left:221px;top:19.5px;width:12px;height:5px;border-radius:2.5px;background:#9a9a9a"></div>
<div class="abs t" style="left:240px;top:10px;font-size:17px;line-height:23px;color:#ff7d26;font-weight:bold">≈</div>
<div class="abs t" style="left:267.5px;top:12px;height:19.5px;line-height:19.5px;font-size:16px;word-spacing:1.6px;background:rgba(255,255,255,.5);padding:0 1px">开=<span class="red">4943.13</span> 高=<span class="red">4964.24</span> 低=<span class="red">4933.83</span> 收=<span class="red">4946.67</span> <span class="red" style="letter-spacing:-.42px">+2.84 (+0.06%)</span></div>
<div class="abs t" style="left:19px;top:41px;width:77px;height:29.5px;border:1.3px solid #f23645;border-radius:4px;background:#fff;color:#f23645;font-size:16px;line-height:27px;text-align:center;-webkit-text-stroke:.3px #f23645">4947.17</div>
<div class="abs t" style="left:102px;top:41px;width:82px;height:29.5px;border:1.3px solid #d1d4dc;border-radius:6px;background:#fff;font-size:16px;line-height:27px;padding-left:8px;-webkit-text-stroke:.25px #131722">0.01</div>
<div class="abs t" style="left:188.5px;top:41px;width:77px;height:29.5px;border:1.5px solid #089981;border-radius:4px;background:#fff;color:#089981;font-size:16px;line-height:26.5px;text-align:center;-webkit-text-stroke:.3px #089981">4946.67</div>
<div class="abs t gray" style="left:19px;top:77px;font-size:13px;line-height:16px">BOLL(20)</div>
<div class="abs t gray" style="left:19px;top:108px;font-size:13.5px;line-height:16px">MA(5,10,20)</div>
<div class="abs" style="left:19px;top:139px;width:32px;height:22px;border:1px solid #d1d4dc;border-radius:4px;background:#fff"></div>
<svg class="abs" style="left:29px;top:146px" width="12" height="8" viewBox="0 0 12 8"><path d="M1.5 6.5L6 2l4.5 4.5" fill="none" stroke="#131722" stroke-width="1.4"/></svg>

<!-- time axis -->
<div class="abs" style="left:265.5px;top:846px;width:748px;height:29px;background:#fde0da"></div>
<div class="abs t" style="left:103px;top:846px;width:162.5px;height:29px;background:#2962ff;color:#fff;font-size:13.5px;line-height:29px;text-align:center;word-spacing:.9px;-webkit-text-stroke:.35px #fff">周四 2026-01-29&nbsp; 07:00</div>
<div class="abs t" style="left:1013px;top:846px;width:162.5px;height:29px;background:#2962ff;color:#fff;font-size:13.5px;line-height:29px;text-align:center;word-spacing:.9px;-webkit-text-stroke:.35px #fff">周三 2026-02-04&nbsp; 05:00</div>
<div class="abs t" style="left:266.5px;top:846px;font-size:13.5px;line-height:29px;color:#3a2f2d">15:00</div>
<div class="abs t" style="left:533px;top:846px;width:140px;text-align:center;font-size:13.5px;line-height:29px;color:#3a2f2d">01-31 02:00</div>
<div class="abs t" style="left:874px;top:846px;width:140px;text-align:center;font-size:13.5px;line-height:29px;color:#3a2f2d">02-03 14:00</div>

<!-- bottom toolbar -->
<div class="abs t tb" style="left:63px">5天</div>
<div class="abs t tb" style="left:102px">1个月</div>
<div class="abs t tb" style="left:157px">3个月</div>
<div class="abs t tb" style="left:211px">6个月</div>
<div class="abs t tb" style="left:266px">今年</div>
<div class="abs t tb" style="left:314px">1年</div>
<div class="abs t tb" style="left:351px">5年</div>
<div class="abs t tb" style="left:390px">全部</div>
<div class="abs" style="left:432.5px;top:885px;width:1px;height:28px;background:#e0e3eb"></div>
<svg class="abs" style="left:440px;top:880px" width="40" height="36" viewBox="440 880 40 36"><path d="M449.6 897.3V892.2a2.200 2.200 0 0 1 2.200-2.200H467.2a2.200 2.200 0 0 1 2.200 2.200V905.3a2.200 2.200 0 0 1-2.200 2.200H459.2M449.6 894.3H469.4M454.6 887.2V891.4M463.3 887.2V891.4M447 903.6H455.7M452.1 899.900L455.8 903.6L452.1 907.5" fill="none" stroke="#131722" stroke-width="1.3"/></svg>
<div class="abs t" style="left:1086px;top:890px;font-size:16px;line-height:20px;color:#131722">06:42:14 ((UTC+8)北京)</div>

<!-- floating drawing toolbar -->
<div class="abs" style="left:152px;top:802.5px;width:891px;height:45.5px;background:#fff;border-radius:7px;box-shadow:0 1px 3px rgba(0,0,0,.1),0 0 12px rgba(0,0,0,.1)"></div>
<svg class="abs" style="left:152px;top:802px" width="891" height="46" viewBox="152 802 891 46">
<circle cx="161.8" cy="819.9" r="1" fill="#6a6d78"/>
<circle cx="161.8" cy="825.8" r="1" fill="#6a6d78"/>
<circle cx="161.8" cy="831.6" r="1" fill="#6a6d78"/>
<circle cx="168.5" cy="819.9" r="1" fill="#6a6d78"/>
<circle cx="168.5" cy="825.8" r="1" fill="#6a6d78"/>
<circle cx="168.5" cy="831.6" r="1" fill="#6a6d78"/>
<rect x="179" y="818.5" width="1" height="14" fill="#e0e3eb"/>
<g fill="none" stroke="#131722" stroke-width="1.3"><rect x="195.2" y="817.2" width="7" height="7" rx="1.8"/><rect x="205.7" y="817.2" width="7" height="7" rx="1.8"/><rect x="195.2" y="827.2" width="7" height="7" rx="1.8"/><path d="M209.2 826.6v8M205.2 830.6h8"/></g>
<rect x="233" y="824.3" width="18.5" height="2" fill="#131722"/>
<text x="256.5" y="831.2" font-size="17.5" fill="#131722" font-family="Liberation Sans, sans-serif">2.0px</text>
<g transform="translate(322.30 808)"><path d="M13.4 7L20.5 15L14.4 21.4L5.8 13.4Z" fill="none" stroke="#2a2e39" stroke-width="1" stroke-linejoin="round"/><path d="M11.5 12.6V5.8a2.15 2.15 0 0 1 4.3 0V9.3" fill="none" stroke="#2a2e39" stroke-width="1"/><circle cx="11.5" cy="12.7" r="1.25" fill="#131722"/><path d="M4.9 15.6C3.6 17.5 2.6 18.7 2.6 19.7a2.3 2.3 0 0 0 4.600 0C7.2 18.7 6.2 17.500 4.9 15.600Z" fill="#000"/><rect x="1.8" y="26.7" width="20.6" height="4.8" rx="2.4" fill="#e8384f"/></g>
<g transform="translate(368.84 808)"><path d="M13.4 7L20.5 15L14.4 21.4L5.8 13.4Z" fill="none" stroke="#2a2e39" stroke-width="1" stroke-linejoin="round"/><path d="M11.5 12.6V5.8a2.15 2.15 0 0 1 4.3 0V9.3" fill="none" stroke="#2a2e39" stroke-width="1"/><circle cx="11.5" cy="12.7" r="1.25" fill="#131722"/><path d="M4.9 15.6C3.6 17.5 2.6 18.7 2.6 19.7a2.3 2.3 0 0 0 4.600 0C7.2 18.7 6.2 17.500 4.9 15.600Z" fill="#000"/><rect x="1.8" y="26.7" width="20.6" height="4.8" rx="2.4" fill="#ff7043"/></g>
<g transform="translate(415.38 808)"><path d="M13.4 7L20.5 15L14.4 21.4L5.8 13.4Z" fill="none" stroke="#2a2e39" stroke-width="1" stroke-linejoin="round"/><path d="M11.5 12.6V5.8a2.15 2.15 0 0 1 4.3 0V9.3" fill="none" stroke="#2a2e39" stroke-width="1"/><circle cx="11.5" cy="12.7" r="1.25" fill="#131722"/><path d="M4.9 15.6C3.6 17.5 2.6 18.7 2.6 19.7a2.3 2.3 0 0 0 4.600 0C7.2 18.7 6.2 17.500 4.9 15.600Z" fill="#000"/><rect x="1.8" y="26.7" width="20.6" height="4.8" rx="2.4" fill="#ffb020"/></g>
<g transform="translate(461.92 808)"><path d="M13.4 7L20.5 15L14.4 21.4L5.8 13.4Z" fill="none" stroke="#2a2e39" stroke-width="1" stroke-linejoin="round"/><path d="M11.5 12.6V5.8a2.15 2.15 0 0 1 4.3 0V9.3" fill="none" stroke="#2a2e39" stroke-width="1"/><circle cx="11.5" cy="12.7" r="1.25" fill="#131722"/><path d="M4.9 15.6C3.6 17.5 2.6 18.7 2.6 19.7a2.3 2.3 0 0 0 4.600 0C7.2 18.7 6.2 17.500 4.9 15.600Z" fill="#000"/><rect x="1.8" y="26.7" width="20.6" height="4.8" rx="2.4" fill="#3dc48a"/></g>
<g transform="translate(508.46 808)"><path d="M13.4 7L20.5 15L14.4 21.4L5.8 13.4Z" fill="none" stroke="#2a2e39" stroke-width="1" stroke-linejoin="round"/><path d="M11.5 12.6V5.8a2.15 2.15 0 0 1 4.3 0V9.3" fill="none" stroke="#2a2e39" stroke-width="1"/><circle cx="11.5" cy="12.7" r="1.25" fill="#131722"/><path d="M4.9 15.6C3.6 17.5 2.6 18.7 2.6 19.7a2.3 2.3 0 0 0 4.600 0C7.2 18.7 6.2 17.500 4.9 15.600Z" fill="#000"/><rect x="1.8" y="26.7" width="20.6" height="4.8" rx="2.4" fill="#1fbfe0"/></g>
<g transform="translate(555.00 808)"><path d="M13.4 7L20.5 15L14.4 21.4L5.8 13.4Z" fill="none" stroke="#2a2e39" stroke-width="1" stroke-linejoin="round"/><path d="M11.5 12.6V5.8a2.15 2.15 0 0 1 4.3 0V9.3" fill="none" stroke="#2a2e39" stroke-width="1"/><circle cx="11.5" cy="12.7" r="1.25" fill="#131722"/><path d="M4.9 15.6C3.6 17.5 2.6 18.7 2.6 19.7a2.3 2.3 0 0 0 4.600 0C7.2 18.7 6.2 17.500 4.9 15.600Z" fill="#000"/><rect x="1.8" y="26.7" width="20.6" height="4.8" rx="2.4" fill="#a080e8"/></g>
<g transform="translate(601.54 808)"><path d="M13.4 7L20.5 15L14.4 21.4L5.8 13.4Z" fill="none" stroke="#2a2e39" stroke-width="1" stroke-linejoin="round"/><path d="M11.5 12.6V5.8a2.15 2.15 0 0 1 4.3 0V9.3" fill="none" stroke="#2a2e39" stroke-width="1"/><circle cx="11.5" cy="12.7" r="1.25" fill="#131722"/><path d="M4.9 15.6C3.6 17.5 2.6 18.7 2.6 19.7a2.3 2.3 0 0 0 4.600 0C7.2 18.7 6.2 17.500 4.9 15.600Z" fill="#000"/><rect x="1.8" y="26.7" width="20.6" height="4.8" rx="2.4" fill="#d81bd8"/></g>
<g transform="translate(648.08 808)"><path d="M13.4 7L20.5 15L14.4 21.4L5.8 13.4Z" fill="none" stroke="#2a2e39" stroke-width="1" stroke-linejoin="round"/><path d="M11.5 12.6V5.8a2.15 2.15 0 0 1 4.3 0V9.3" fill="none" stroke="#2a2e39" stroke-width="1"/><circle cx="11.5" cy="12.7" r="1.25" fill="#131722"/><path d="M4.9 15.6C3.6 17.5 2.6 18.7 2.6 19.7a2.3 2.3 0 0 0 4.600 0C7.2 18.7 6.2 17.500 4.9 15.600Z" fill="#000"/><rect x="1.8" y="26.7" width="20.6" height="4.8" rx="2.4" fill="#e83e8c"/></g>
<g transform="translate(694.62 808)"><path d="M13.4 7L20.5 15L14.4 21.4L5.8 13.4Z" fill="none" stroke="#2a2e39" stroke-width="1" stroke-linejoin="round"/><path d="M11.5 12.6V5.8a2.15 2.15 0 0 1 4.3 0V9.3" fill="none" stroke="#2a2e39" stroke-width="1"/><circle cx="11.5" cy="12.7" r="1.25" fill="#131722"/><path d="M4.9 15.6C3.6 17.5 2.6 18.7 2.6 19.7a2.3 2.3 0 0 0 4.600 0C7.2 18.7 6.2 17.500 4.9 15.600Z" fill="#000"/><rect x="1.8" y="26.7" width="20.6" height="4.8" rx="2.4" fill="#c4a096"/></g>
<g transform="translate(741.16 808)"><path d="M13.4 7L20.5 15L14.4 21.4L5.8 13.4Z" fill="none" stroke="#2a2e39" stroke-width="1" stroke-linejoin="round"/><path d="M11.5 12.6V5.8a2.15 2.15 0 0 1 4.3 0V9.3" fill="none" stroke="#2a2e39" stroke-width="1"/><circle cx="11.5" cy="12.7" r="1.25" fill="#131722"/><path d="M4.9 15.6C3.6 17.5 2.6 18.7 2.6 19.7a2.3 2.3 0 0 0 4.600 0C7.2 18.7 6.2 17.500 4.9 15.600Z" fill="#000"/><rect x="1.8" y="26.7" width="20.6" height="4.8" rx="2.4" fill="#a0a81e"/></g>
<g transform="translate(787.70 808)"><path d="M13.4 7L20.5 15L14.4 21.4L5.8 13.4Z" fill="none" stroke="#2a2e39" stroke-width="1" stroke-linejoin="round"/><path d="M11.5 12.6V5.8a2.15 2.15 0 0 1 4.3 0V9.3" fill="none" stroke="#2a2e39" stroke-width="1"/><circle cx="11.5" cy="12.7" r="1.25" fill="#131722"/><path d="M4.9 15.6C3.6 17.5 2.6 18.7 2.6 19.7a2.3 2.3 0 0 0 4.600 0C7.2 18.7 6.2 17.500 4.9 15.600Z" fill="#000"/><rect x="1.8" y="26.7" width="20.6" height="4.8" rx="2.4" fill="#4458e8"/></g>
<defs><linearGradient id="rb" x1="0" x2="1" y1="0" y2="0"><stop offset="0" stop-color="#a030e0"/><stop offset=".2" stop-color="#3060ff"/><stop offset=".4" stop-color="#20c070"/><stop offset=".6" stop-color="#f0e020"/><stop offset=".8" stop-color="#ff9020"/><stop offset="1" stop-color="#f03040"/></linearGradient></defs>
<rect x="836" y="836.6" width="20.5" height="3" fill="url(#rb)"/>
<g fill="none" stroke="#131722" stroke-width="1.2" stroke-linejoin="round"><path d="M836.6 830.6l1.600-6.400l12.400-12.400a1.400 1.400 0 0 1 2 0l2.800 2.800a1.400 1.400 0 0 1 0 2l-12.400 12.400z"/><path d="M838.2 824.2l4.800 4.800M848.2 814.200l4.800 4.800M840.4 826.800l11-11"/></g>
<path d="M836.600 830.600l.8-3.100l2.300 2.300z" fill="#131722"/>
<path d="M888.39 814.16L892.21 814.16L892.78 817.28L894.22 817.87L896.82 816.07L899.53 818.78L897.73 821.38L898.32 822.82L901.44 823.39L901.44 827.21L898.32 827.78L897.73 829.22L899.53 831.82L896.82 834.53L894.22 832.73L892.78 833.32L892.21 836.44L888.39 836.44L887.82 833.32L886.38 832.73L883.78 834.53L881.07 831.82L882.87 829.22L882.28 827.78L879.16 827.21L879.16 823.39L882.28 822.82L882.87 821.38L881.07 818.78L883.78 816.07L886.38 817.87L887.82 817.28Z" fill="none" stroke="#131722" stroke-width="1.25" stroke-linejoin="round"/>
<circle cx="890.3" cy="825.3" r="3.4" fill="none" stroke="#131722" stroke-width="1.25"/>
<g fill="none" stroke="#131722" stroke-width="1.3"><rect x="926.2" y="823.6" width="17.2" height="13.4" rx="2.4"/><path d="M930.600 823.6v-3.300a4.300 4.300 0 0 1 8.400-1.300"/><path d="M934.800 827.8v4" stroke-width="2" stroke-linecap="round"/></g>
<g fill="none" stroke="#131722" stroke-width="1.3"><path d="M969 819.600h20.200M974.600 819.600v-2.600a1.200 1.200 0 0 1 1.200-1.200h6.600a1.200 1.200 0 0 1 1.200 1.200v2.600M971.700 819.600V834.9a2.200 2.200 0 0 0 2.200 2.200h10.700a2.200 2.200 0 0 0 2.200-2.200V819.600M976.600 823.200v9.500M981.600 823.200v9.500"/></g>
<circle cx="1015.7" cy="826.2" r="2.4" fill="none" stroke="#131722" stroke-width="1.2"/>
<circle cx="1023.7" cy="826.2" r="2.4" fill="none" stroke="#131722" stroke-width="1.2"/>
<circle cx="1031.7" cy="826.2" r="2.4" fill="none" stroke="#131722" stroke-width="1.2"/>
</svg>

<!-- small floating panel -->
<div class="abs" style="left:14px;top:887.3px;width:69.500px;height:45px;background:#fff;border-radius:5px;box-shadow:0 0 7px rgba(0,0,0,.2)"></div>
<svg class="abs" style="left:14px;top:888px" width="70" height="37" viewBox="14 888 70 37"><g fill="#131722"><circle cx="24.4" cy="904.5" r="1.25"/><circle cx="31.5" cy="904.5" r="1.25"/><circle cx="24.4" cy="910.2" r="1.25"/><circle cx="31.5" cy="910.2" r="1.25"/><circle cx="24.4" cy="915.9" r="1.25"/><circle cx="31.500" cy="915.9" r="1.25"/></g><path d="M49.8 919.8C53 914 55 909.500 58.9 908.1C63 907 67.500 910 67 913.700C66.500 917.500 64 919.800 60 919.800ZM66 902.500C65.500 906 67.500 909 70 908.600C72 908 75 904.500 78.200 901.500" fill="none" stroke="#131722" stroke-width="1.3" stroke-linejoin="round"/></svg>

<!-- watermark -->
<div class="abs" style="left:1231.5px;top:850.5px;width:21px;height:21px;border-radius:11px;background:#e4e6ec"></div>
<svg class="abs" style="left:1060px;top:850px" width="44" height="48" viewBox="1060 850 44 48"><defs><linearGradient id="fg" gradientUnits="userSpaceOnUse" x1="0" x2="0" y1="860" y2="890"><stop offset=".48" stop-color="#2962ff"/><stop offset=".5" stop-color="#111"/></linearGradient></defs><path d="M1073 856.5H1088Q1096.5 857 1096.5 868V878Q1096 887.500 1087 888Q1083.500 888.500 1081.300 892L1080 888.500H1073Q1065 888 1065 880V865Q1065 857 1073 856.500Z" fill="#fff"/><path d="M1088.5 857Q1097 859 1097 868.500V878Q1096.500 887.500 1087.500 888.300Q1084 889 1081.500 892.200" fill="none" stroke="#111" stroke-width="1.3"/><path d="M1075.2 887.8L1078.3 870C1079.200 865 1081.500 862.600 1088 862.600M1072.300 872.800H1087" fill="none" stroke="url(#fg)" stroke-width="2.5"/></svg>
<div class="abs t" id="wm" style="left:1105px;top:851px;font-size:32px;line-height:40px;color:#fff;text-shadow:1px 1px 0 #222,1px 0 0 #333,0 1px 0 #333,0 0 1px #555">@金投顾哥</div>
</body></html>
